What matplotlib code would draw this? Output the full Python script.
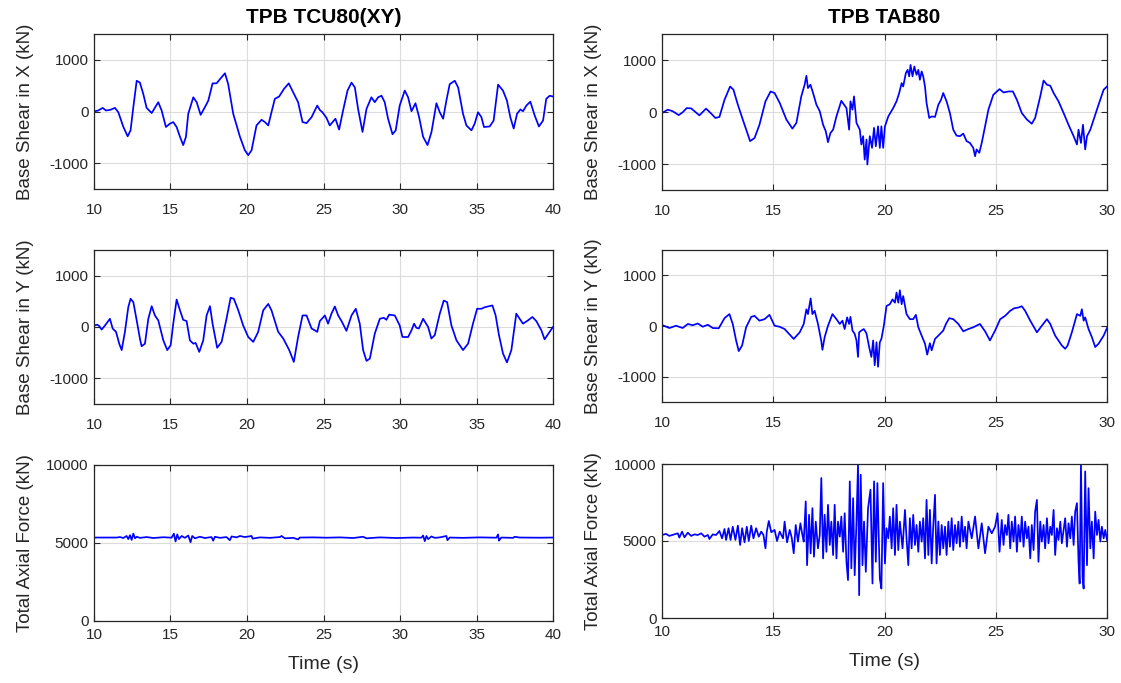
import matplotlib
matplotlib.use("Agg")
import matplotlib.pyplot as plt

plt.rcParams['font.family'] = ['Liberation Sans', 'DejaVu Sans']
plt.rcParams['axes.unicode_minus'] = False

# ---- TCU80(XY): base shear X
t_tcu_x = [10.00, 10.28, 10.57, 10.78, 11.04, 11.37, 11.59, 11.92, 12.20, 12.39,
           12.57, 12.79, 13.00, 13.22, 13.44, 13.77, 14.20, 14.42, 14.70, 14.96,
           15.18, 15.40, 15.62, 15.83, 16.01, 16.16, 16.49, 16.71, 16.97, 17.25,
           17.47, 17.75, 18.01, 18.23, 18.56, 18.77, 19.10, 19.54, 19.86, 20.08,
           20.30, 20.62, 20.95, 21.17, 21.39, 21.60, 21.82, 22.10, 22.41, 22.73,
           23.02, 23.34, 23.63, 23.89, 24.22, 24.59, 24.76, 24.93, 25.19, 25.41,
           25.78, 26.02, 26.28, 26.57, 26.83, 27.05, 27.26, 27.55, 27.81, 28.13,
           28.35, 28.57, 28.79, 29.00, 29.22, 29.51, 29.72, 29.98, 30.31, 30.53,
           30.75, 31.01, 31.25, 31.51, 31.80, 32.06, 32.38, 32.60, 32.82, 33.03,
           33.25, 33.58, 33.80, 34.12, 34.34, 34.67, 34.88, 35.10, 35.32, 35.49,
           35.86, 36.12, 36.41, 36.73, 36.99, 37.21, 37.43, 37.65, 37.87, 38.04,
           38.26, 38.52, 38.80, 39.08, 39.35, 39.56, 39.78, 40.00]
v_tcu_x = [0, 20, 70, 20, 30, 70, -15, -300, -480, -365,
           85, 595, 560, 340, 70, -30, 180, 20, -300, -235,
           -205, -300, -490, -650, -490, -45, 275, 180, -65, 85,
           210, 545, 545, 625, 740, 530, -45, -490, -750, -845,
           -750, -270, -160, -205, -270, -15, 245, 290, 435, 545,
           370, 180, -205, -225, -110, 115, 30, -15, -120, -270,
           -140, -350, 20, 405, 560, 465, 50, -395, 50, 275,
           180, 275, 305, 180, -140, -440, -365, 115, 405, 275,
           5, 160, -110, -490, -650, -395, 160, -15, -140, 210,
           530, 595, 465, -45, -270, -365, -235, -15, -110, -300,
           -290, -175, 520, 405, 210, -110, -330, -45, 40, 5,
           115, 190, -75, -290, -175, 245, 305, 290]

# ---- TCU80(XY): base shear Y
t_tcu_y = [10.00, 10.22, 10.35, 10.50, 10.72, 11.04, 11.22, 11.44, 11.65, 11.81,
           12.02, 12.24, 12.39, 12.57, 12.79, 13.00, 13.11, 13.33, 13.55, 13.77,
           13.98, 14.20, 14.53, 14.79, 15.01, 15.18, 15.40, 15.62, 15.83, 16.05,
           16.27, 16.49, 16.64, 16.88, 17.14, 17.36, 17.58, 17.75, 18.05, 18.34,
           18.66, 18.93, 19.14, 19.43, 19.75, 20.08, 20.41, 20.73, 21.06, 21.39,
           21.60, 22.04, 22.37, 22.76, 23.06, 23.34, 23.63, 23.89, 24.22, 24.43,
           24.59, 24.76, 25.09, 25.30, 25.52, 25.74, 25.96, 26.18, 26.50, 26.83,
           27.11, 27.37, 27.59, 27.81, 28.03, 28.35, 28.68, 28.94, 29.11, 29.29,
           29.66, 29.98, 30.16, 30.53, 30.75, 30.92, 31.07, 31.23, 31.51, 31.84,
           32.05, 32.27, 32.60, 32.86, 33.08, 33.36, 33.69, 34.12, 34.45, 34.77,
           35.04, 35.32, 35.54, 35.75, 36.04, 36.25, 36.47, 36.73, 36.99, 37.28,
           37.60, 37.82, 38.04, 38.37, 38.65, 38.91, 39.24, 39.45, 39.78, 40.00]
v_tcu_y = [30, 45, 15, -50, 30, 160, -30, -95, -325, -450,
           -95, 385, 550, 485, 130, -225, -375, -325, 160, 405,
           225, 130, -260, -450, -355, 65, 535, 325, 140, 115,
           -260, -325, -310, -485, -260, 225, 405, 65, -405, -290,
           160, 570, 550, 325, 30, -195, -290, -95, 325, 450,
           325, -95, -225, -450, -680, -195, 225, 225, -30, -65,
           -95, 115, 225, 65, 260, 400, 225, 115, -75, 225,
           355, 65, -450, -660, -615, -130, 160, 180, 140, 240,
           225, 30, -195, -195, -65, 65, -15, -30, 160, 0,
           -225, -160, 260, 515, 485, 30, -260, -450, -325, 65,
           355, 355, 385, 400, 420, 225, -160, -515, -690, -450,
           260, 160, 65, 130, 195, 115, -65, -240, -95, 0]

# ---- TCU80(XY): total axial force
t_tcu_n = [10.00, 11.48, 11.70, 11.92, 12.13, 12.24, 12.35, 12.46, 12.57, 12.68,
           12.79, 13.00, 13.44, 13.88, 14.53, 15.07, 15.22, 15.33, 15.44, 15.55,
           15.73, 15.94, 16.16, 16.31, 16.42, 16.60, 16.92, 17.25, 17.68, 17.79,
           17.90, 18.23, 18.66, 18.88, 18.99, 19.32, 19.54, 19.86, 20.30, 20.36,
           20.84, 21.49, 22.15, 22.26, 22.47, 23.02, 23.34, 23.45, 24.32, 25.20,
           26.07, 26.94, 27.59, 27.81, 28.68, 29.77, 30.86, 31.40, 31.51, 31.62,
           31.73, 31.84, 32.05, 32.27, 32.60, 33.03, 33.10, 33.25, 34.12, 35.21,
           36.30, 36.41, 36.47, 36.62, 37.39, 37.50, 37.82, 39.13, 40.00]
v_tcu_n = [5350, 5350, 5380, 5320, 5450, 5250, 5500, 5200, 5600, 5300,
           5400, 5330, 5380, 5320, 5370, 5340, 5600, 5100, 5550, 5250,
           5450, 5330, 5480, 5050, 5450, 5300, 5400, 5320, 5380, 5150,
           5400, 5330, 5380, 5180, 5420, 5360, 5450, 5380, 5450, 5280,
           5360, 5330, 5380, 5450, 5300, 5330, 5230, 5350, 5360, 5340,
           5360, 5320, 5400, 5300, 5360, 5320, 5350, 5340, 5480, 5120,
           5450, 5250, 5420, 5330, 5360, 5450, 5180, 5350, 5330, 5360,
           5340, 5550, 5150, 5350, 5330, 5400, 5350, 5340, 5350]

# ---- TAB80: base shear X
t_tab_x = [10.00, 10.26, 10.48, 10.75, 10.93, 11.11, 11.31, 11.46, 11.68, 11.98,
           12.21, 12.40, 12.58, 12.81, 13.06, 13.21, 13.41, 13.63, 13.81, 13.96,
           14.16, 14.38, 14.65, 14.88, 15.06, 15.29, 15.59, 15.86, 16.04, 16.26,
           16.41, 16.49, 16.56, 16.67, 16.79, 16.94, 17.09, 17.24, 17.36, 17.46,
           17.57, 17.69, 17.84, 18.06, 18.29, 18.41, 18.47, 18.56, 18.63, 18.74,
           18.89, 18.96, 19.04, 19.11, 19.19, 19.23, 19.34, 19.44, 19.53, 19.61,
           19.71, 19.79, 19.86, 19.94, 20.02, 20.17, 20.39, 20.54, 20.66, 20.77,
           20.84, 20.96, 21.04, 21.11, 21.17, 21.26, 21.34, 21.44, 21.52, 21.59,
           21.67, 21.74, 21.82, 21.89, 22.01, 22.12, 22.27, 22.42, 22.54, 22.64,
           22.79, 22.94, 23.09, 23.24, 23.39, 23.54, 23.69, 23.84, 23.99, 24.07,
           24.14, 24.26, 24.37, 24.52, 24.67, 24.89, 25.05, 25.17, 25.35, 25.57,
           25.77, 25.95, 26.17, 26.40, 26.62, 26.77, 27.00, 27.15, 27.30, 27.45,
           27.60, 27.82, 28.05, 28.27, 28.50, 28.65, 28.72, 28.83, 28.92, 29.02,
           29.10, 29.25, 29.40, 29.62, 29.85, 30.00]
v_tab_x = [-20, 45, 15, -60, -5, 75, 70, 15, -65, 65,
           -30, -115, -95, 235, 490, 430, 140, -145, -370, -560,
           -500, -245, 205, 395, 365, 175, -145, -320, -210, 300,
           525, 695, 460, 525, 365, 140, 15, -245, -370, -580,
           -405, -340, -85, 215, 75, -340, 205, 45, 300, -210,
           -340, -625, -465, -915, -530, -1010, -465, -690, -305, -660,
           -275, -690, -275, -690, -275, -85, 75, 205, 365, 555,
           490, 750, 810, 685, 905, 685, 875, 715, 810, 620,
           780, 685, 490, 175, -115, -85, -95, 140, 235, 365,
           205, -20, -340, -455, -465, -415, -560, -595, -690, -850,
           -720, -785, -595, -275, 45, 330, 395, 440, 375, 395,
           395, 235, -20, -145, -225, -115, 300, 605, 525, 505,
           365, 205, -20, -245, -465, -625, -340, -595, -245, -720,
           -465, -340, -145, 140, 430, 490]

# ---- TAB80: base shear Y
t_tab_y = [10.00, 10.33, 10.63, 10.93, 11.16, 11.38, 11.61, 11.83, 12.06, 12.28,
           12.55, 12.81, 13.03, 13.18, 13.33, 13.45, 13.60, 13.78, 14.01, 14.16,
           14.38, 14.61, 14.83, 15.06, 15.29, 15.51, 15.74, 15.92, 16.19, 16.37,
           16.49, 16.56, 16.68, 16.76, 16.86, 17.01, 17.16, 17.21, 17.31, 17.46,
           17.66, 17.84, 17.99, 18.11, 18.21, 18.32, 18.41, 18.47, 18.56, 18.66,
           18.74, 18.81, 18.86, 18.96, 19.07, 19.19, 19.31, 19.41, 19.49, 19.56,
           19.64, 19.71, 19.79, 19.86, 19.97, 20.09, 20.24, 20.36, 20.47, 20.54,
           20.62, 20.69, 20.77, 20.84, 20.99, 21.14, 21.29, 21.41, 21.52, 21.67,
           21.82, 21.92, 22.04, 22.12, 22.27, 22.42, 22.64, 22.76, 22.91, 23.09,
           23.32, 23.54, 23.77, 23.99, 24.29, 24.52, 24.74, 24.97, 25.20, 25.42,
           25.65, 25.83, 26.02, 26.17, 26.32, 26.55, 26.85, 27.07, 27.30, 27.45,
           27.67, 27.87, 27.97, 28.12, 28.23, 28.42, 28.65, 28.80, 28.87, 28.95,
           29.02, 29.17, 29.32, 29.47, 29.62, 29.85, 30.00]
v_tab_y = [20, -40, 5, -40, 40, 15, 50, -15, 25, -40,
           -45, 155, 235, 40, -285, -495, -385, -25, 180, 200,
           105, 135, 220, 5, -15, -60, -170, -255, -125, 40,
           330, 235, 545, 235, 300, 40, -300, -470, -220, 5,
           235, 135, 40, 105, -60, 170, 40, 180, -90, -155,
           -285, -610, -125, -90, -60, -145, -415, -610, -285, -775,
           -320, -805, -320, -255, 5, 395, 430, 525, 460, 660,
           460, 705, 430, 590, 235, 135, 135, 220, -25, -190,
           -350, -565, -340, -480, -255, -190, -90, 40, 155, 135,
           40, -105, -60, -25, 40, -105, -285, -90, 135, 200,
           300, 350, 365, 390, 300, 105, -125, 5, 135, 40,
           -190, -320, -385, -450, -385, -125, 235, 200, 330, 105,
           170, -60, -220, -415, -350, -190, -40]

# ---- TAB80: total axial force
t_tab_n = [10.00, 10.18, 10.33, 10.56, 10.71, 10.78, 10.90, 11.01, 11.16, 11.31,
           11.46, 11.61, 11.76, 11.91, 12.06, 12.13, 12.28, 12.43, 12.58, 12.70,
           12.81, 12.88, 12.99, 13.08, 13.18, 13.30, 13.41, 13.51, 13.60, 13.71,
           13.81, 13.90, 14.01, 14.11, 14.23, 14.35, 14.46, 14.56, 14.65, 14.71,
           14.80, 14.91, 15.06, 15.17, 15.29, 15.44, 15.51, 15.62, 15.74, 15.83,
           15.92, 16.01, 16.11, 16.22, 16.31, 16.37, 16.46, 16.52, 16.61, 16.68,
           16.76, 16.83, 16.91, 17.01, 17.09, 17.16, 17.24, 17.31, 17.39, 17.46,
           17.54, 17.61, 17.69, 17.76, 17.84, 17.91, 17.99, 18.06, 18.14, 18.21,
           18.29, 18.36, 18.44, 18.51, 18.59, 18.66, 18.74, 18.81, 18.86, 18.93,
           19.01, 19.08, 19.16, 19.26, 19.37, 19.46, 19.53, 19.61, 19.68, 19.79,
           19.86, 19.94, 20.02, 20.09, 20.17, 20.24, 20.32, 20.39, 20.47, 20.54,
           20.62, 20.69, 20.81, 20.92, 20.99, 21.07, 21.14, 21.22, 21.29, 21.37,
           21.44, 21.52, 21.59, 21.67, 21.74, 21.82, 21.89, 21.97, 22.04, 22.12,
           22.19, 22.27, 22.34, 22.42, 22.49, 22.57, 22.64, 22.72, 22.79, 22.87,
           22.94, 23.02, 23.09, 23.17, 23.24, 23.32, 23.39, 23.47, 23.54, 23.62,
           23.69, 23.77, 23.92, 24.07, 24.22, 24.37, 24.52, 24.67, 24.82, 24.97,
           25.08, 25.17, 25.27, 25.35, 25.42, 25.50, 25.57, 25.65, 25.72, 25.80,
           25.87, 25.95, 26.02, 26.10, 26.17, 26.25, 26.32, 26.40, 26.47, 26.55,
           26.62, 26.70, 26.77, 26.85, 26.92, 27.00, 27.07, 27.15, 27.22, 27.30,
           27.37, 27.45, 27.52, 27.60, 27.67, 27.75, 27.82, 27.90, 27.97, 28.05,
           28.12, 28.20, 28.27, 28.35, 28.42, 28.50, 28.57, 28.65, 28.72, 28.77,
           28.83, 28.90, 28.95, 29.02, 29.10, 29.17, 29.25, 29.32, 29.40, 29.47,
           29.55, 29.62, 29.70, 29.77, 29.85, 29.92, 30.00]
v_tab_n = [5390, 5460, 5330, 5430, 5500, 5220, 5610, 5240, 5540, 5330,
           5430, 5390, 5500, 5280, 5390, 5130, 5430, 5390, 5650, 5170,
           5780, 5070, 5830, 5070, 5930, 5070, 6000, 4740, 5830, 4910,
           5930, 5000, 6000, 5170, 5830, 5280, 5610, 5390, 4520, 5610,
           6300, 5570, 5720, 5000, 5610, 5170, 6260, 4910, 5720, 5220,
           4200, 6040, 4960, 6150, 5390, 4960, 7570, 3430, 6700, 4200,
           7130, 3980, 6260, 4520, 5390, 9090, 3870, 6700, 4300, 7350,
           4740, 6260, 4090, 7350, 3870, 6260, 5280, 6590, 4300, 6800,
           3650, 2460, 8870, 3220, 7780, 2780, 6260, 10000, 1480, 9300,
           3430, 6260, 3000, 7130, 8330, 2240, 8870, 3650, 8760, 2570,
           1910, 8760, 3540, 5830, 5170, 6590, 4520, 7130, 4090, 7350,
           4410, 6260, 4520, 7020, 5170, 3430, 6480, 4520, 6700, 4740,
           6040, 4300, 6260, 4960, 6480, 3870, 7670, 4090, 7020, 3540,
           5930, 8000, 3540, 6260, 4090, 6040, 4520, 5930, 4090, 6260,
           4630, 6480, 4410, 6040, 4850, 6260, 4630, 6590, 4960, 5930,
           4520, 6260, 5170, 6590, 4520, 6150, 4200, 5930, 5500, 5930,
           6800, 4300, 6370, 4740, 6040, 5390, 6700, 4520, 6260, 4960,
           6590, 4300, 6040, 4960, 6590, 4630, 6260, 5170, 5930, 3870,
           6040, 4410, 6910, 7670, 3650, 6260, 4960, 6040, 4520, 6480,
           4850, 5930, 5390, 7020, 4090, 5830, 5070, 6260, 4850, 5720,
           6480, 4630, 6150, 5170, 6590, 4740, 6910, 7460, 3650, 2240,
           10000, 2670, 1910, 9520, 3430, 8430, 4520, 6260, 3870, 6910,
           5390, 6370, 4960, 5930, 5170, 5720, 5070]

titles = ['TPB TCU80(XY)', 'TPB TAB80']
ylabels = ['Base Shear in X (kN)', 'Base Shear in Y (kN)', 'Total Axial Force (kN)']
xticks_tcu = [10, 15, 20, 25, 30, 35, 40]
xticks_tab = [10, 15, 20, 25, 30]
shear_ticks = [-1000, 0, 1000]
axial_ticks = [0, 5000, 10000]

W, H = 1121, 683
fig = plt.figure(figsize=(W / 100, H / 100), dpi=100)

# axes rectangles in pixels: left, top, right, bottom
boxes = {
    (0, 0): (94, 34, 553, 189), (1, 0): (94, 250, 553, 404), (2, 0): (94, 465, 553, 621),
    (0, 1): (662, 34, 1107, 190), (1, 1): (662, 250, 1107, 402), (2, 1): (662, 464, 1107, 618),
}

data = {
    (0, 0): (t_tcu_x, v_tcu_x), (1, 0): (t_tcu_y, v_tcu_y), (2, 0): (t_tcu_n, v_tcu_n),
    (0, 1): (t_tab_x, v_tab_x), (1, 1): (t_tab_y, v_tab_y), (2, 1): (t_tab_n, v_tab_n),
}

dark = '#262626'
for (r, c), (l, t, rr, b) in boxes.items():
    ax = fig.add_axes([l / W, 1 - b / H, (rr - l) / W, (b - t) / H])
    tt, vv = data[(r, c)]
    ax.plot(tt, vv, color='#0000ff', lw=1.25)
    if c == 0:
        ax.set_xlim(10, 40)
        ax.set_xticks(xticks_tcu)
    else:
        ax.set_xlim(10, 30)
        ax.set_xticks(xticks_tab)
    if r < 2:
        ax.set_ylim(-1500, 1500)
        ax.set_yticks(shear_ticks)
    else:
        ax.set_ylim(0, 10000)
        ax.set_yticks(axial_ticks)
    ax.grid(True, color='#dcdcdc', lw=0.8)
    ax.set_axisbelow(True)
    ax.tick_params(direction='in', top=True, right=True, length=4, width=0.8,
                   labelsize=11, colors=dark)
    ax.tick_params(axis='y', pad=4)
    ax.tick_params(axis='x', pad=10 if r < 2 else 5)
    for s in ax.spines.values():
        s.set_color(dark)
        s.set_linewidth(0.9)
    ax.set_ylabel(ylabels[r], fontsize=13.5, color=dark)
    ax.yaxis.set_label_coords(-0.13 if c == 0 else -0.135, 0.5)
    if r == 0:
        ax.set_title(titles[c], fontsize=15, fontweight='bold', pad=8)
    if r == 2:
        ax.set_xlabel('Time (s)', fontsize=14, color=dark, labelpad=10)

fig.savefig('out.png', dpi=100)
